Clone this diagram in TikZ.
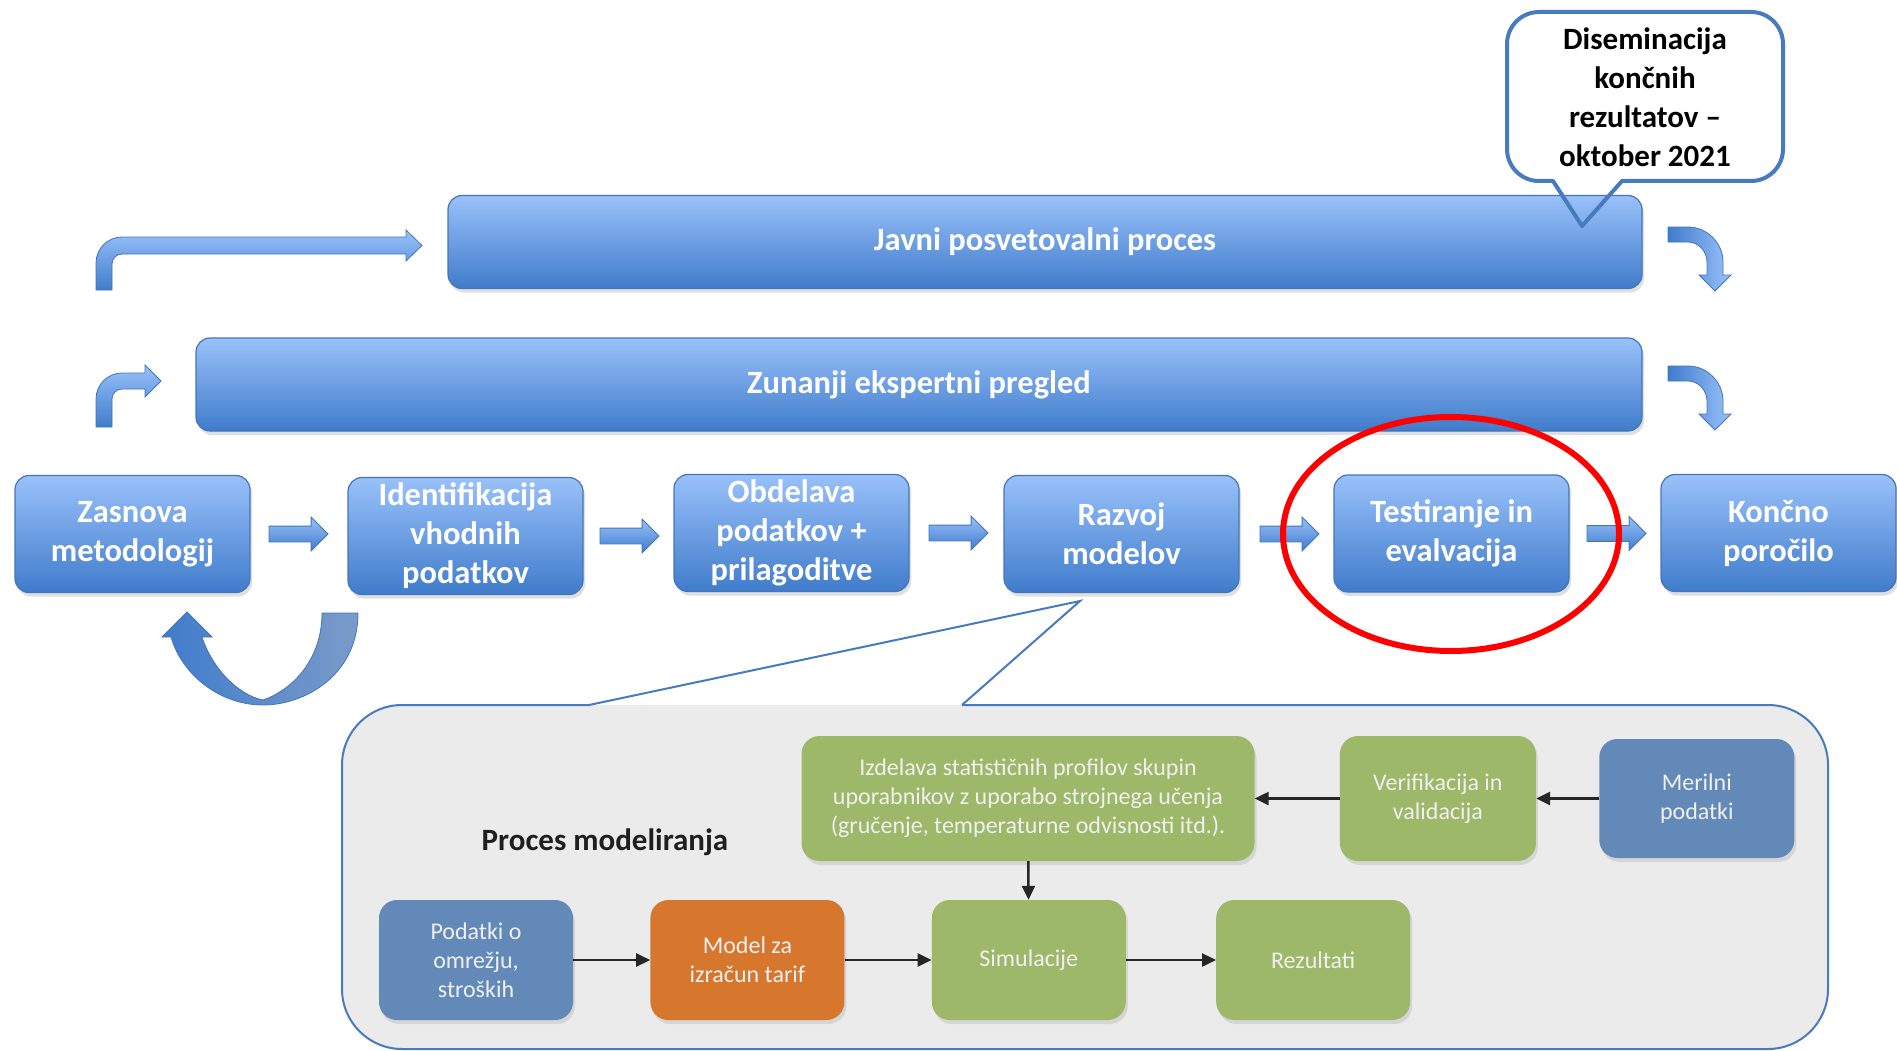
\documentclass[tikz,border=0pt]{standalone}
\usepackage{fontspec}
\setmainfont{Carlito}
\usetikzlibrary{positioning,shapes.geometric,shapes.arrows,shadows,arrows.meta}

\definecolor{faztop}{RGB}{153,193,250}
\definecolor{fazbot}{RGB}{64,124,203}
\definecolor{fazline}{RGB}{68,117,186}
\definecolor{zelena}{RGB}{158,184,106}
\definecolor{modra}{RGB}{98,137,184}
\definecolor{oranzna}{RGB}{214,119,45}
\definecolor{siva}{RGB}{235,235,235}
\definecolor{robline}{RGB}{72,122,192}
\definecolor{uback}{RGB}{122,155,201}

\tikzstyle{faza}=[rectangle, rounded corners=14pt, draw=fazline, line width=1.2pt,
  top color=faztop, bottom color=fazbot, text=white, align=center, inner sep=0pt,
  minimum width=235pt, minimum height=117pt,
  font=\fontsize{32.5}{39}\selectfont\bfseries,
  drop shadow={shadow xshift=2pt, shadow yshift=-4pt, opacity=0.25}]
\tikzstyle{pas}=[faza, minimum height=93pt]
\tikzstyle{puscica}=[single arrow, draw=fazline, line width=0.8pt, top color=faztop,
  bottom color=fazbot, minimum height=59pt, minimum width=0pt,
  single arrow head extend=9pt, inner xsep=0pt, inner ysep=7.5pt]
\tikzstyle{blok}=[rectangle, rounded corners=18pt, text=white!94!black, align=center,
  inner sep=0pt, minimum width=194pt, minimum height=120pt,
  font=\fontsize{24}{29}\selectfont,
  drop shadow={shadow xshift=2pt, shadow yshift=-4pt, opacity=0.2}]
\tikzstyle{link}=[-{Triangle[length=14pt,width=13pt]}, line width=2.4pt, draw=black!85]
\tikzstyle{zavoj}=[draw=fazline, line width=0.8pt]

\begin{document}
\begin{tikzpicture}[x=1pt, y=-1pt]
  \useasboundingbox[fill=white] (0,0) rectangle (1897,1051);

  \node[faza] (zas) at (132.5,534) {Zasnova\\metodologij};
  \node[faza] (ide) at (465.5,536) {Identifikacija\\vhodnih\\podatkov};
  \node[faza] (obd) at (791.5,533) {Obdelava\\podatkov +\\prilagoditve};
  \node[faza] (raz) at (1121.5,534) {Razvoj\\modelov};
  \node[faza] (tes) at (1451.5,533.5) {Testiranje in\\evalvacija};
  \node[faza] (kon) at (1778.5,533) {Končno\\poročilo};
  \node[puscica, right=18pt of zas] (p1) {};
  \node[puscica, right=16pt of ide] (p2) {};
  \node[puscica, right=19pt of obd] (p3) {};
  \node[puscica, right=20pt of raz] (p4) {};
  \node[puscica, right=17pt of tes] (p5) {};

  \node[pas, minimum width=1194pt] (jav) at (1045,242) {Javni posvetovalni proces};
  \node[pas, minimum width=1446pt] (zun) at (919,384.5) {Zunanji ekspertni pregled};

  \node[ellipse, draw=red, line width=6pt, minimum width=336pt, minimum height=234pt] (oznaka) at (1451,534) {};

  \draw[zavoj, top color=faztop, bottom color=fazbot] (96,290) -- (96,263)
    .. controls (96,248.6) and (107.6,237) .. (122,237) -- (406,237) -- (406,230)
    -- (422,245.5) -- (406,261) -- (406,254) -- (122,254)
    .. controls (116.5,254) and (112,258.5) .. (112,264) -- (112,290) -- cycle;
  \draw[zavoj, top color=faztop, bottom color=fazbot] (96,427) -- (96,399)
    .. controls (96,384.6) and (107.6,373) .. (122,373) -- (145,373) -- (145,365)
    -- (161,381) -- (145,397) -- (145,389) -- (122,389)
    .. controls (116.5,389) and (112,393.5) .. (112,399) -- (112,427) -- cycle;
  \foreach \dy in {0,139}{
    \begin{scope}[shift={(0,\dy)}]
      \draw[zavoj, left color=fazbot, right color=faztop] (1668,227) -- (1688,227)
        .. controls (1707,227) and (1723,243) .. (1723,262) -- (1723,275) -- (1731,275)
        -- (1715,291) -- (1699,275) -- (1707,275) -- (1707,262)
        .. controls (1707,251.5) and (1698.5,242) .. (1688,242) -- (1668,242) -- cycle;
    \end{scope}
  }

  \node[font=\fontsize{31}{39}\selectfont\bfseries, align=center] (dis) at (1645,97)
    {Diseminacija\\končnih\\rezultatov --\\oktober 2021};
  \draw[robline, line width=4pt, line join=round] (1507,44) -- (1507,149)
    .. controls (1507,166.7) and (1521.3,181) .. (1539,181) -- (1553,181) -- (1582,226)
    -- (1622,181) -- (1751,181) .. controls (1768.7,181) and (1783,166.7) .. (1783,149)
    -- (1783,44) .. controls (1783,26.3) and (1768.7,12) .. (1751,12) -- (1539,12)
    .. controls (1521.3,12) and (1507,26.3) .. (1507,44) -- cycle;

  \draw[zavoj, left color=fazbot, right color=uback] (358,613)
    .. controls (358,675) and (305,705) .. (263,705)
    .. controls (220,705) and (182,675) .. (171,637) -- (162,637) -- (187,612)
    -- (212,637) -- (202,637) .. controls (212,668) and (238,695) .. (263,700)
    .. controls (292,690) and (322,660) .. (322,613) -- cycle;

  \fill[siva, rounded corners=60pt] (342,705) rectangle (1828,1049);
  \draw[robline, line width=2pt, rounded corners=60pt] (962,705) -- (1828,705)
    -- (1828,1049) -- (342,1049) -- (342,705) -- (589,705);
  \draw[robline, line width=2pt] (589,705) -- (1080,601) -- (962,705);

  \node[font=\fontsize{31}{38}\selectfont\bfseries, text=black!88] (proc) at (605,842) {Proces modeliranja};

  \node[blok, fill=zelena, minimum width=453pt, minimum height=125pt] (izd) at (1028,798.5)
    {Izdelava statističnih profilov skupin\\uporabnikov z uporabo strojnega učenja\\(gručenje, temperaturne odvisnosti itd.).};
  \node[blok, fill=zelena, minimum width=196pt, minimum height=125pt, right=85pt of izd] (ver) {Verifikacija in\\validacija};
  \node[blok, fill=modra, minimum width=195pt, minimum height=119pt, right=63pt of ver] (mer) {Merilni\\podatki};

  \node[blok, fill=modra] (pod) at (476,960) {Podatki o\\omrežju,\\stroških};
  \node[blok, fill=oranzna, right=77pt of pod] (mod) {Model za\\izračun tarif};
  \node[blok, fill=zelena, right=87pt of mod] (sim) {Simulacije};
  \node[blok, fill=zelena, right=90pt of sim] (rez) {Rezultati};

  \draw[link] (mer) -- (ver);
  \draw[link] (ver) -- (izd);
  \draw[link] (izd) -- (sim);
  \draw[link] (pod) -- (mod);
  \draw[link] (mod) -- (sim);
  \draw[link] (sim) -- (rez);
\end{tikzpicture}
\end{document}
